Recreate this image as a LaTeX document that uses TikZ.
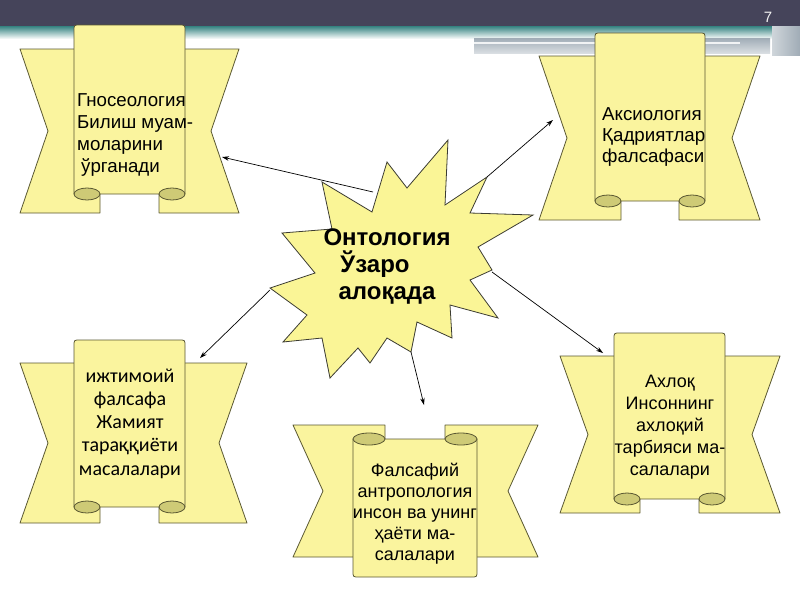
\documentclass[tikz,border=0pt]{standalone}
\usepackage{fontspec}
\setmainfont{Liberation Sans}
\newfontfamily\carl{Carlito}
\usetikzlibrary{arrows.meta}
\definecolor{barDark}{RGB}{69,68,90}
\definecolor{barTeal}{RGB}{52,130,128}
\definecolor{barGray}{RGB}{160,172,182}
\definecolor{ribFill}{RGB}{250,244,158}
\definecolor{curlFill}{RGB}{206,202,118}
\definecolor{ribLine}{RGB}{90,88,50}
\definecolor{starFill}{RGB}{250,245,150}
\definecolor{starLine}{RGB}{60,60,50}
\tikzset{
  ribbon/.style={fill=ribFill, draw=ribLine, line width=0.8pt, line join=round},
  curl/.style={fill=curlFill, draw=ribLine, line width=0.8pt},
  scrolltext/.style={inner sep=0pt, text=black, font=\fontsize{18}{21.7}\selectfont},
  link/.style={draw=black, line width=0.7pt, -{Stealth[length=7pt,width=4.5pt]}},
}
% up ribbon: #1 L, #2 R, #3 panel top, #4 back top, #5 back bottom, #6 cL, #7 cR, #8 panel bottom
\newcommand\ribup[8]{%
  \pgfmathsetmacro\rmid{(#4+#5)/2}%
  \path[ribbon] (#1,#4) -- ({#6+26},#4) -- ({#6+26},#5) -- (#1,#5) -- ({#1+28},\rmid) -- cycle;
  \path[ribbon] (#2,#4) -- ({#7-26},#4) -- ({#7-26},#5) -- (#2,#5) -- ({#2-28},\rmid) -- cycle;
  \path[ribbon] (#6,#8) -- (#6,{#3+6}) .. controls (#6,#3) .. ({#6+6},#3) -- ({#7-6},#3) .. controls (#7,#3) .. (#7,{#3+6}) -- (#7,#8) -- cycle;
  \path[curl] ({#6+13},#8) ellipse [x radius=13pt, y radius=6pt];
  \path[curl] ({#7-13},#8) ellipse [x radius=13pt, y radius=6pt];
}
\begin{document}
\begin{tikzpicture}[x=1pt,y=-1pt]
\useasboundingbox (0,0) rectangle (800,600);
\fill[white] (0,0) rectangle (800,600);
% top bar
\fill[barDark] (0,0) rectangle (800,26);
\shade[top color=barTeal, bottom color=white] (0,26) rectangle (800,39);
\shade[top color=barGray, bottom color=barGray!40] (474,38) rectangle (770,53);
\fill[white!85!barGray] (474,42) rectangle (740,44);
\shade[left color=barGray!50, right color=barGray] (772,0) rectangle (800,55);
\fill[barDark] (772,0) rectangle (800,26);
\node[inner sep=0pt, text=white!90!gray, font=\fontsize{15}{15}\selectfont] (pnum) at (768,17) {7};

% scrolls
\ribup{20}{239}{25}{49}{213}{74}{185}{194}
\ribup{539}{760}{33}{56}{220}{595}{705}{201}
\ribup{20}{247}{340}{363}{523}{74}{185}{507}
\ribup{560}{780}{333}{356}{513}{614}{725}{499}
% down ribbon (bottom middle)
\path[ribbon] (293,425) -- (385,425) -- (385,557) -- (293,557) -- (323,491) -- cycle;
\path[ribbon] (538,425) -- (445,425) -- (445,557) -- (538,557) -- (508,491) -- cycle;
\path[ribbon] (353,439) -- (353,571) .. controls (353,577) .. (359,577) -- (471,577) .. controls (477,577) .. (477,571) -- (477,439) -- cycle;
\path[curl] (369,439) ellipse [x radius=16pt, y radius=6pt];
\path[curl] (461,439) ellipse [x radius=16pt, y radius=6pt];

% starburst
\path[fill=starFill, draw=starLine, line width=0.8pt, line join=miter]
 (322,182) -- (372,212) -- (387,162) -- (407,188) -- (448,140) -- (445,205)
 -- (487,177) -- (470,213) -- (533,215) -- (478,247) -- (492,270) -- (470,280)
 -- (498,318) -- (450,305) -- (452,338) -- (417,322) -- (411,352) -- (387,338)
 -- (370,363) -- (358,348) -- (330,378) -- (322,338) -- (283,342) -- (307,315)
 -- (270,288) -- (315,273) -- (282,233) -- (332,229) -- cycle;

% texts
\node[scrolltext, anchor=west, align=left, font=\fontsize{18.7}{21.7}\selectfont] (gno) at (77,135) {Гносеология\\Билиш муам-\\моларини\\\hspace{4pt}ўрганади};
\node[scrolltext, anchor=west, align=left, font=\fontsize{18.7}{21}\selectfont] (aks) at (602,137.5) {Аксиология\\Қадриятлар\\фалсафаси};
\node[inner sep=0pt, text=black, align=center, font=\carl\fontsize{20}{23.3}\selectfont] (ijt) at (130,423.5) {ижтимоий\\фалсафа\\Жамият\\тараққиёти\\масалалари};
\node[scrolltext, align=center, font=\fontsize{18}{22}\selectfont] (axl) at (670,427) {Ахлоқ\\Инсоннинг\\ахлоқий\\тарбияси ма-\\салалари};
\node[scrolltext, align=center, font=\fontsize{18}{21}\selectfont] (ant) at (415,513.5) {Фалсафий\\антропология\\инсон ва унинг\\ҳаёти ма-\\салалари};
\node[inner sep=0pt, text=black, align=center, font=\bfseries\fontsize{24}{27}\selectfont] (ont) at (387,267) {Онтология\\\hspace*{-24pt}Ўзаро\\алоқада};

% connector end points
\coordinate (sA) at (373,192); \coordinate (eA) at (222,157);
\coordinate (sB) at (487,177); \coordinate (eB) at (553,120);
\coordinate (sC) at (270,290); \coordinate (eC) at (200,358);
\coordinate (sD) at (492,272); \coordinate (eD) at (603,353);
\coordinate (sE) at (411,352); \coordinate (eE) at (424,405);
\draw[link] (sA) -- (eA);
\draw[link] (sB) -- (eB);
\draw[link] (sC) -- (eC);
\draw[link] (sD) -- (eD);
\draw[link] (sE) -- (eE);
\end{tikzpicture}
\end{document}
